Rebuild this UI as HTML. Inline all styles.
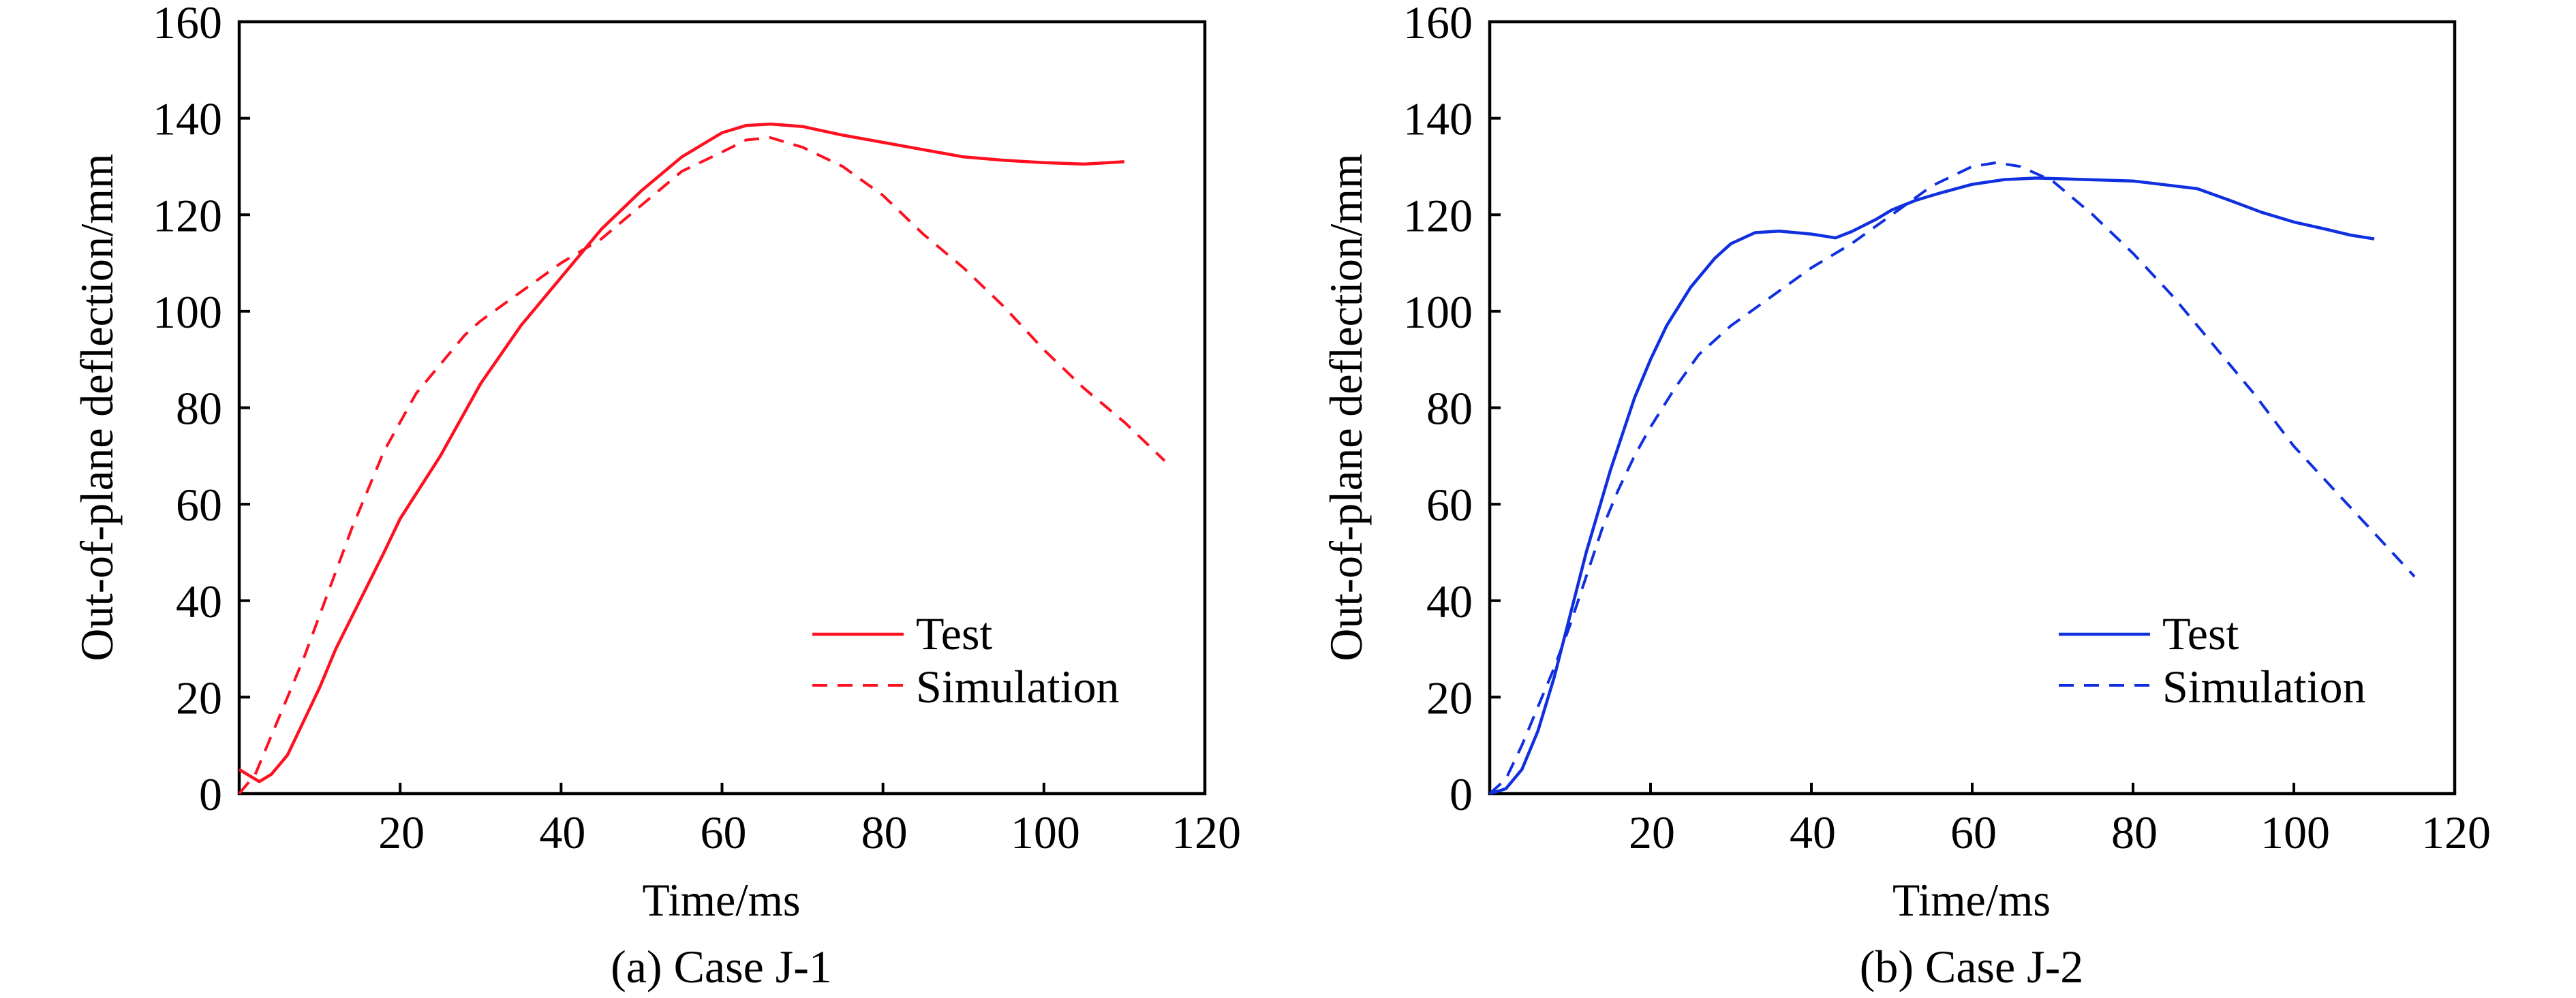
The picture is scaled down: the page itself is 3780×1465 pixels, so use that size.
<!DOCTYPE html>
<html><head><meta charset="utf-8"><style>
html,body{margin:0;padding:0;background:#fff;}
svg{display:block;}
text{font-family:"Liberation Serif",serif;fill:#000;}
</style></head><body>
<svg id="fig" width="3780" height="1465" viewBox="0 0 3780 1465"></svg>
<script>
const xTicks=[20,40,60,80,100,120];
const yTicks=[0,20,40,60,80,100,120,140,160];
const testAx=[0,1,2.5,4,6,8,10,12,15,18,20,25,30,35,40,45,50,55,58,60,63,66,70,75,80,85,90,95,100,105,110];
const testAy=[5,4,2.5,4,8,15,22,30,40,50,57,70,85,97,107,117,125,132,135,137,138.5,138.8,138.3,136.5,135,133.5,132,131.3,130.8,130.5,131];
const simAx=[0,2,4,6,8,10,12,14,16,18,20,22,25,28,30,35,40,45,50,55,60,63,66,70,75,80,85,90,95,100,105,110,115];
const simAy=[0,4,12,20,28,37,46,55,63,71,77,83,89,95,98,104,110,115,122,129,133,135.5,136,134,130,124,116,109,101,92,84,77,69];
const testBx=[0,2,4,6,8,10,12,15,18,20,22,25,28,30,33,36,40,43,45,48,50,53,56,60,64,68,72,76,80,84,88,92,96,100,104,107,110];
const testBy=[0,1,5,13,24,37,50,67,82,90,97,105,111,114,116.3,116.6,116,115.2,116.5,119,121,123,124.5,126.3,127.3,127.6,127.4,127.2,127,126.2,125.4,123,120.5,118.5,117,115.8,115];
const simBx=[0,2,4,6,8,10,12,14,16,18,20,23,26,30,35,40,45,50,55,60,63,66,70,75,80,85,90,95,100,105,110,115];
const simBy=[0,3,10,18,26,35,45,55,63,70,76,84,91,97,103,109,114,120,126,130,130.8,130,127,120,112,103,93,83,72,63,54,45];

const NS="http://www.w3.org/2000/svg";
const svg=document.getElementById('fig');
function mk(tag,attrs,parent){const e=document.createElementNS(NS,tag);for(const k in attrs)e.setAttribute(k,attrs[k]);(parent||svg).appendChild(e);return e;}

function panel(id,L,R,T,B,color,tx,ty,sx,sy,titleX,caption,legX){
  const g=mk('g',{});
  
  
  const xs=v=>L+(R-L)*v/120, ys=v=>B-(B-T)*v/160;
  const box=mk('rect',{x:L,y:T,width:R-L,height:B-T,fill:'none',stroke:'#000','stroke-width':4.5},g);
  
  
  xTicks.forEach(v=>{
    const t=mk('line',{x1:xs(v),x2:xs(v),y1:B,y2:B-16,stroke:'#000','stroke-width':4},g);
    
    
    const l=mk('text',{x:xs(v)+2,y:B+80,'font-size':68,'text-anchor':'middle'},g);
    l.textContent=v;
    
    
  });
  yTicks.forEach(v=>{
    const t=mk('line',{x1:L,x2:L+16,y1:ys(v),y2:ys(v),stroke:'#000','stroke-width':4},g);
    
    
    const l=mk('text',{x:L-25,y:ys(v)+24,'font-size':68,'text-anchor':'end'},g);
    l.textContent=v;
    
    
  });
  const path=(X,Y)=>X.map((x,i)=>(i?'L':'M')+xs(x).toFixed(1)+','+ys(Y[i]).toFixed(1)).join('');
  const p1=mk('path',{d:path(tx,ty),fill:'none',stroke:color,'stroke-width':4.5,'stroke-linejoin':'round'},g);
  
  
  const p2=mk('path',{d:path(sx,sy),fill:'none',stroke:color,'stroke-width':4,'stroke-dasharray':'22 15'},g);
  
  
  const yt=mk('text',{x:0,y:0,'font-size':68,'text-anchor':'middle',transform:`translate(${titleX},598) rotate(-90)`,textLength:745,lengthAdjust:'spacingAndGlyphs'},g);
  yt.textContent='Out-of-plane deflection/mm';
  
  
  const cx=(L+R)/2-1;
  const xt=mk('text',{x:cx,y:1344,'font-size':68,'text-anchor':'middle',textLength:232,lengthAdjust:'spacingAndGlyphs'},g);
  xt.textContent='Time/ms';
  
  
  const cp=mk('text',{x:cx,y:1442,'font-size':68,'text-anchor':'middle'},g);
  cp.textContent=caption;
  
  
  const l1=mk('line',{x1:legX,x2:legX+134,y1:931,y2:931,stroke:color,'stroke-width':4.5},g);
  
  
  const t1=mk('text',{x:legX+152,y:953,'font-size':68},g);
  t1.textContent='Test';
  
  
  const l2=mk('line',{x1:legX,x2:legX+134,y1:1006,y2:1006,stroke:color,'stroke-width':4,'stroke-dasharray':'22 15'},g);
  
  
  const t2=mk('text',{x:legX+152,y:1031,'font-size':68},g);
  t2.textContent='Simulation';
  
  
}
panel('case-j1',351,1768,32,1165,'#ff1020',testAx,testAy,simAx,simAy,165,'(a) Case J-1',1192);
panel('case-j2',2186,3602,32,1165,'#1030e0',testBx,testBy,simBx,simBy,1998,'(b) Case J-2',3021);
</script>
</body></html>
